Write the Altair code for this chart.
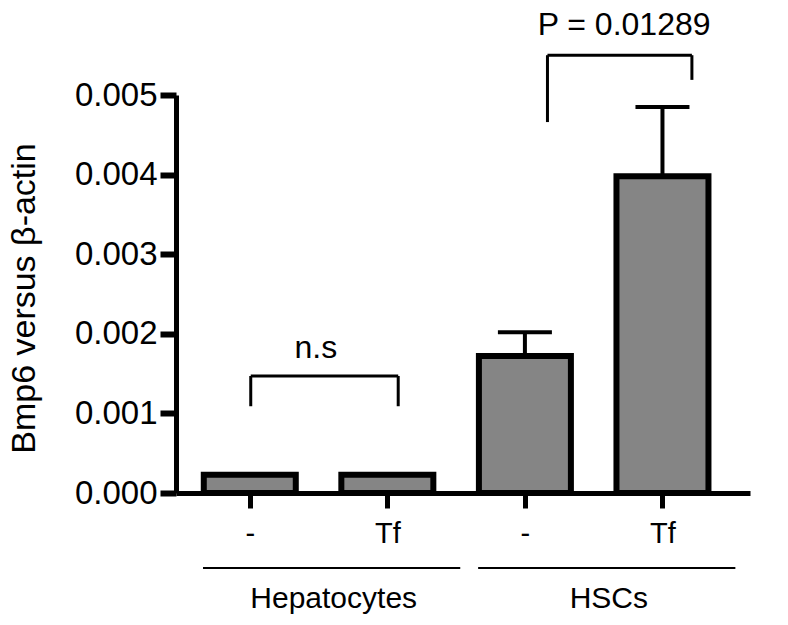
import json
import altair as alt
import pandas as pd

# ---------------- data ----------------
groups = ["Hepatocytes", "Hepatocytes", "HSCs", "HSCs"]
treatments = ["-", "Tf", "-", "Tf"]
means = [0.00023, 0.00023, 0.00172, 0.00398]
sems = [0.0, 0.0, 0.00030, 0.00087]

comparisons = [(0, 1), (2, 3)]
comparison_labels = ["n.s", "P = 0.01289"]

y_ticks = [0.0, 0.001, 0.002, 0.003, 0.004, 0.005]
y_title = "Bmp6 versus β-actin"

# ---------------- layout / style ----------------
FONT = "Liberation Sans"
BAR_FILL = "#858585"
# bracket geometry: (left x offset, right x offset, top, left foot, right foot, text x offset, text y)
BRACKET_LAYOUT = [
    (0.007, 0.079, 0.00147, 0.00109, 0.00109, -0.02, 0.00170),
    (0.164, 0.214, 0.00550, 0.00466, 0.00519, 0.221, 0.00575),
]

pos = [i + 0.5 for i in range(len(means))]
df = pd.DataFrame({"pos": pos, "group": groups, "treatment": treatments,
                   "mean": means, "sem": sems})
df["upper"] = df["mean"] + df["sem"]
err = df[df["sem"] > 0]

# brackets
seg_rows, txt_rows = [], []
for (a, b), lab, lay in zip(comparisons, comparison_labels, BRACKET_LAYOUT):
    lo, ro, top, lf, rf, tx, ty = lay
    xl, xr = pos[a] + lo, pos[b] + ro
    seg_rows += [
        {"x": xl, "x2": xr, "y": top, "y2": top},
        {"x": xl, "x2": xl, "y": lf, "y2": top},
        {"x": xr, "x2": xr, "y": rf, "y2": top},
    ]
    txt_rows.append({"x": (pos[a] + pos[b]) / 2 + tx, "y": ty, "label": lab})
seg_df = pd.DataFrame(seg_rows)
txt_df = pd.DataFrame(txt_rows)

# groups
grp_rows = []
for g in dict.fromkeys(groups):
    members = [p for p, gg in zip(pos, groups) if gg == g]
    c = sum(members) / len(members)
    grp_rows.append({"group": g, "x": c - 0.84, "x2": c + 1.03, "xt": c + 0.11})
grp_df = pd.DataFrame(grp_rows)

xscale = alt.Scale(domain=[0, 4.1], nice=False, zero=False)
yscale = alt.Scale(domain=[0, 0.005], nice=False, zero=False)

label_expr = json.dumps(treatments) + "[round(datum.value - 0.5)]"

base = alt.Chart(df)

bars = base.mark_bar(size=92, fill=BAR_FILL, stroke="black", strokeWidth=6).encode(
    x=alt.X("pos:Q", scale=xscale,
            axis=alt.Axis(values=pos, labelExpr=label_expr, title=None, grid=False,
                          domainColor="black", domainWidth=5, tickColor="black",
                          tickWidth=5, tickSize=15, labelFont=FONT, labelFontSize=29,
                          labelColor="black", labelBaseline="alphabetic",
                          labelPadding=34, labelFlush=False)),
    y=alt.Y("mean:Q", scale=yscale,
            axis=alt.Axis(values=y_ticks, format=".3f", title=y_title, grid=False,
                          domainColor="black", domainWidth=5, tickColor="black",
                          tickWidth=6, tickSize=16, labelFont=FONT, labelFontSize=33,
                          labelColor="black", labelPadding=3, labelFlush=False,
                          titleFont=FONT, titleFontSize=34, titleFontWeight="normal",
                          titleColor="black", titleAngle=270, titleAlign="center",
                          titleBaseline="alphabetic", titleX=-142, titleY=203)),
)

stems = alt.Chart(err).mark_rule(color="black", strokeWidth=4).encode(
    x="pos:Q", y="mean:Q", y2="upper:Q")
caps = alt.Chart(err).mark_tick(orient="horizontal", color="black", size=54,
                                thickness=4, opacity=1).encode(
    x="pos:Q", y="upper:Q")

brackets = alt.Chart(seg_df).mark_rule(color="black", strokeWidth=3).encode(
    x="x:Q", x2="x2:Q", y="y:Q", y2="y2:Q")
btext = alt.Chart(txt_df).mark_text(font=FONT, fontSize=32, color="black",
                                    baseline="alphabetic", align="center").encode(
    x="x:Q", y="y:Q", text="label:N")

glines = alt.Chart(grp_df).mark_rule(color="black", strokeWidth=2).encode(
    x="x:Q", x2="x2:Q", y=alt.value(473))
gtext = alt.Chart(grp_df).mark_text(font=FONT, fontSize=30, color="black",
                                    baseline="alphabetic", align="center").encode(
    x="xt:Q", y=alt.value(513), text="group:N")

chart = alt.layer(stems, caps, bars, brackets, btext, glines, gtext).properties(
    width=574, height=398,
    autosize=alt.AutoSizeParams(type="none"),
    padding={"left": 168, "top": 87, "right": 20, "bottom": 122},
).configure_view(stroke=None)

chart.save("out.html", embed_options={"renderer": "svg", "actions": False})
